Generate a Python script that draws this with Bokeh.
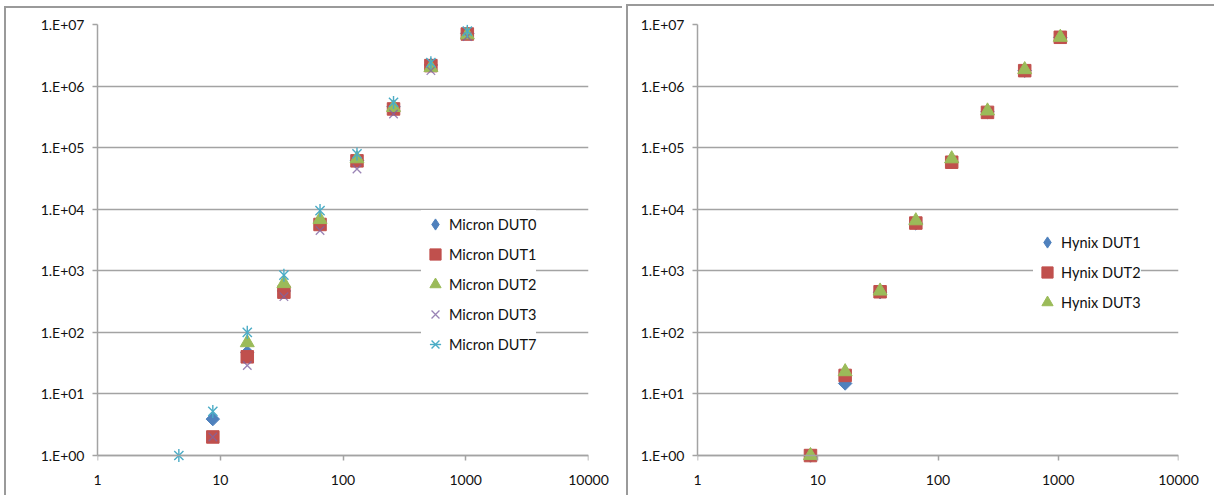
import math

from bokeh.plotting import figure
from bokeh.layouts import row
from bokeh.models import Range1d, FixedTicker, Legend, LegendItem, LogAxis
from bokeh.embed import file_html
from bokeh.resources import INLINE

NAN = float("nan")

# Axis ticks and their labels
x_ticks = [1, 10, 100, 1000, 10000]
x_tick_labels = ["1", "10", "100", "1000", "10000"]
y_ticks = [1, 10, 100, 1e3, 1e4, 1e5, 1e6, 1e7]
y_tick_labels = ["1.E+00", "1.E+01", "1.E+02", "1.E+03",
                 "1.E+04", "1.E+05", "1.E+06", "1.E+07"]

# Micron devices
micron_x = [4.6, 8.7, 16.6, 33, 65, 130, 258, 520, 1030]
micron_dut0 = [NAN, 3.9, 47, 470, 6000, 62000, 460000, 2.2e6, 7.2e6]
micron_dut1 = [NAN, 2, 40, 450, 5650, 61000, 425000, 2.15e6, 7.0e6]
micron_dut2 = [NAN, NAN, 68, 620, 6800, 66000, 450000, 2.0e6, 6.8e6]
micron_dut3 = [NAN, 2, 29, 380, 4500, 45000, 352000, 1.78e6, 6.4e6]
micron_dut7 = [1, 5.2, 100, 850, 9500, 79000, 543000, 2.4e6, 7.8e6]

# Hynix devices
hynix_x = [8.7, 16.9, 33, 65.4, 130, 258, 526, 1040]
hynix_dut1 = [1, 14.8, 450, 5900, 58000, 380000, 1.78e6, 6.2e6]
hynix_dut2 = [1, 20, 457, 5960, 58000, 374000, 1.78e6, 6.2e6]
hynix_dut3 = [1, 23, 470, 6500, 66000, 395000, 1.85e6, 6.2e6]

BLUE = "#4F81BD"
RED = "#C0504D"
GREEN = "#9BBB59"
PURPLE = "#8064A2"
CYAN = "#4BACC6"
GRID = "#a3a3a3"
TEXT = "#111111"
FONT = "Lato"


def draw_series(p, x, y, kind):
    """Draw one series with an Excel-like marker; returns the legend renderers."""
    if kind == "diamond":
        p.scatter(x, y, marker="square", angle=math.pi / 4, size=9.5,
                  fill_color=BLUE, line_color=BLUE)
        # legend swatch (legend glyphs are drawn unrotated)
        return [p.scatter([NAN], [NAN], marker="diamond", fill_color=BLUE,
                          line_color=BLUE)]
    if kind == "square":
        return [p.scatter(x, y, marker="square", size=12.5,
                          fill_color=RED, line_color=RED)]
    if kind == "triangle":
        return [p.scatter(x, y, marker="triangle", size=14,
                          fill_color=GREEN, line_color=GREEN)]
    if kind == "x":
        return [p.scatter(x, y, marker="x", size=12, line_color=PURPLE,
                          line_width=1.3, line_alpha=0.8)]
    if kind == "star":
        r1 = p.scatter(x, y, marker="x", size=13, line_color=CYAN, line_width=1.4)
        r2 = p.scatter(x, y, marker="dash", angle=math.pi / 2, size=13,
                       line_color=CYAN, line_width=1.4)
        return [r1, r2]
    raise ValueError(kind)


def make_chart(width, frame_left, frame_right, frame_top, series,
               legend_xy, border_bg):
    height = 495
    frame_bottom = 465
    axis_y = 455  # where the value 1 sits
    span = axis_y - frame_top
    pad = 7 * (frame_bottom - axis_y) / span
    p = figure(width=width, height=height, x_axis_type="log", y_axis_type="log",
               x_range=Range1d(1, 10000), y_range=Range1d(10 ** -pad, 1e7),
               output_backend="svg", toolbar_location=None,
               min_border_left=frame_left, min_border_right=width - frame_right,
               min_border_top=frame_top, min_border_bottom=height - frame_bottom,
               background_fill_color="white", border_fill_color=None,
               outline_line_color=None)
    p.styles = {"background": border_bg}

    # bottom axis carries only the labels
    xa = p.xaxis[0]
    xa.ticker = FixedTicker(ticks=x_ticks)
    xa.major_label_overrides = dict(zip(x_ticks, x_tick_labels))
    xa.axis_line_color = None
    xa.major_tick_line_color = None
    xa.minor_tick_line_color = None
    xa.major_label_standoff = 3
    xa.major_label_text_font = FONT
    xa.major_label_text_font_size = "14px"
    xa.major_label_text_color = TEXT

    # axis line with ticks pinned at y = 1
    xline = LogAxis(ticker=FixedTicker(ticks=x_ticks), fixed_location=1,
                    axis_line_color=GRID, axis_line_width=1.5,
                    major_tick_line_color=GRID, major_tick_line_width=1.5,
                    major_tick_in=5, major_tick_out=0,
                    minor_tick_line_color=None,
                    major_label_text_color=None,
                    major_label_text_font_size="1px",
                    major_label_standoff=0)
    p.add_layout(xline, "above")

    ya = p.yaxis[0]
    ya.ticker = FixedTicker(ticks=y_ticks)
    ya.major_label_overrides = dict(zip(y_ticks, y_tick_labels))
    ya.bounds = (1, 1e7)
    ya.axis_line_color = GRID
    ya.axis_line_width = 1.5
    ya.major_tick_line_color = GRID
    ya.major_tick_line_width = 1.5
    ya.major_tick_out = 5
    ya.major_tick_in = 0
    ya.minor_tick_line_color = None
    ya.major_label_standoff = 8
    ya.major_label_text_font = FONT
    ya.major_label_text_font_size = "14px"
    ya.major_label_text_color = TEXT

    p.xgrid.visible = False
    p.ygrid[0].ticker = FixedTicker(ticks=y_ticks)
    p.ygrid[0].grid_line_color = GRID
    p.ygrid[0].grid_line_width = 1.5

    items = []
    for label, x, y, kind in series:
        rs = draw_series(p, x, y, kind)
        items.append(LegendItem(label=label, renderers=rs))

    legend = Legend(items=items, location=legend_xy,
                    background_fill_color="white", background_fill_alpha=1.0,
                    border_line_color=None, padding=0, margin=0, spacing=2,
                    glyph_width=28, glyph_height=28, label_height=28,
                    label_standoff=0, label_text_font=FONT,
                    label_text_font_size="14.5px", label_text_color=TEXT)
    p.add_layout(legend, "center")
    return p


left = make_chart(
    622, 97, 588, 24,
    [("Micron DUT0", micron_x, micron_dut0, "diamond"),
     ("Micron DUT1", micron_x, micron_dut1, "square"),
     ("Micron DUT2", micron_x, micron_dut2, "triangle"),
     ("Micron DUT3", micron_x, micron_dut3, "x"),
     ("Micron DUT7", micron_x, micron_dut7, "star")],
    (324, 107),
    "linear-gradient(#9a9a9a,#9a9a9a) 5px 6px / 620px 2px no-repeat,"
    "linear-gradient(#9a9a9a,#9a9a9a) 4px 6px / 2px 489px no-repeat, white",
)

right = make_chart(
    592, 75, 556, 22,
    [("Hynix DUT1", hynix_x, hynix_dut1, "diamond"),
     ("Hynix DUT2", hynix_x, hynix_dut2, "square"),
     ("Hynix DUT3", hynix_x, hynix_dut3, "triangle")],
    (336, 149),
    "linear-gradient(#9a9a9a,#9a9a9a) 4px 4px / 600px 2px no-repeat,"
    "linear-gradient(#9a9a9a,#9a9a9a) 4px 4px / 2px 491px no-repeat, white",
)

layout = row(left, right)
open("out.html", "w").write(file_html(layout, INLINE))
